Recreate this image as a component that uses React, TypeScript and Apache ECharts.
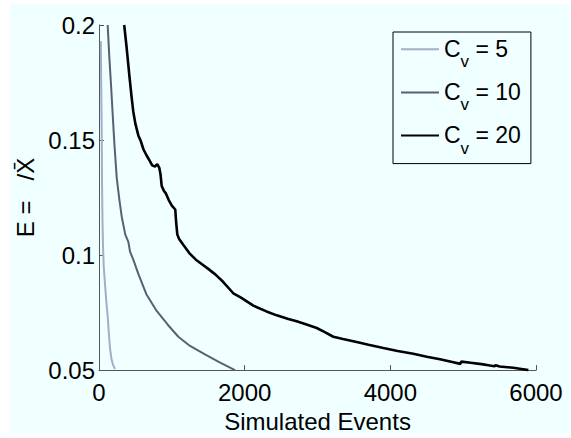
import React, { useEffect, useRef } from "react";
import * as echarts from "echarts";

const seriesNames = ["Cv5", "Cv10", "Cv20"];
const legendValues = ["5", "10", "20"];
const xTicks = [0, 2000, 4000, 6000];
const yTicks = [0.05, 0.1, 0.15, 0.2];

const cv5: [number, number][] = [
  [25, 0.193], [30, 0.175], [35, 0.16], [38, 0.15], [42, 0.13], [48, 0.115],
  [55, 0.104], [65, 0.095], [82, 0.0876], [100, 0.08], [119, 0.0736],
  [135, 0.066], [151, 0.0596], [170, 0.055], [190, 0.0525], [220, 0.0505],
];

const cv10: [number, number][] = [
  [119, 0.2], [140, 0.187], [165, 0.174], [190, 0.16], [210, 0.149],
  [243, 0.1337], [280, 0.124], [311, 0.1169], [360, 0.109], [403, 0.1057],
  [426, 0.1015], [471, 0.098], [540, 0.0918], [650, 0.083], [792, 0.0757],
  [950, 0.0695], [1089, 0.0645], [1250, 0.0605], [1455, 0.0568],
  [1650, 0.0535], [1867, 0.05],
];

const cv20: [number, number][] = [
  [346, 0.2], [380, 0.19], [420, 0.177], [450, 0.168], [471, 0.1623],
  [500, 0.157], [540, 0.152], [572, 0.1497], [610, 0.146], [650, 0.1435],
  [691, 0.1413], [730, 0.139], [769, 0.1385], [800, 0.1395], [828, 0.1379],
  [845, 0.135], [861, 0.13], [890, 0.128], [920, 0.1267], [956, 0.124],
  [1000, 0.1215], [1047, 0.1198], [1060, 0.114], [1075, 0.109],
  [1100, 0.107], [1159, 0.1044], [1250, 0.1005], [1330, 0.098],
  [1414, 0.096], [1500, 0.094], [1600, 0.0915], [1700, 0.0885],
  [1844, 0.0834], [1950, 0.0815], [2119, 0.078], [2300, 0.0755],
  [2440, 0.0738], [2600, 0.0722], [2714, 0.0712], [2850, 0.0698],
  [2989, 0.0683], [3100, 0.0665], [3217, 0.0645], [3350, 0.0635],
  [3538, 0.0622], [3700, 0.061], [3904, 0.0596], [4100, 0.0583],
  [4315, 0.0571], [4500, 0.0558], [4682, 0.0547], [4850, 0.0535],
  [4960, 0.0527], [4975, 0.0537], [5100, 0.0532], [5250, 0.0526],
  [5368, 0.052], [5430, 0.0517], [5445, 0.0521], [5500, 0.0516],
  [5689, 0.051], [5800, 0.0505], [5895, 0.05],
];

const colors = ["#a3aec8", "#5a6070", "#000000"];
const FONT = "'Liberation Sans', Arial, sans-serif";
const NB = "\u00a0";

export default function App() {
  const ref = useRef<HTMLDivElement>(null);
  useEffect(() => {
    if (!ref.current) return;
    const chart = echarts.init(ref.current, null, { renderer: "svg" });
    const dataSets = [cv5, cv10, cv20];
    const widths = [2, 2, 2.6];
    chart.setOption({
      animation: false,
      backgroundColor: "#ffffff",
      textStyle: { fontFamily: FONT },
      graphic: [
        {
          type: "rect",
          silent: true,
          z: -10,
          shape: { x: 10, y: 4, width: 561, height: 429 },
          style: { fill: "#f0ffff" },
        },
      ],
      grid: { left: 99, top: 25, right: 35, bottom: 55, containLabel: false },
      legend: {
        orient: "vertical",
        left: 393,
        top: 32,
        padding: [2, 10, 2, 7],
        itemWidth: 38,
        itemHeight: 38,
        itemGap: 2,
        borderColor: "#000",
        borderWidth: 1,
        backgroundColor: "transparent",
        itemStyle: { opacity: 0 },
        data: seriesNames,
        formatter: (name: string) => {
          const i = seriesNames.indexOf(name);
          return `{c|C}{s|v}{c|${NB}=${NB}${legendValues[i]}}`;
        },
        textStyle: {
          fontFamily: FONT,
          rich: {
            c: {
              fontSize: 23,
              lineHeight: 24,
              verticalAlign: "top",
              color: "#000",
              fontFamily: FONT,
            },
            s: {
              fontSize: 17,
              lineHeight: 17,
              verticalAlign: "top",
              padding: [16, 0, 5, 0],
              color: "#000",
              fontFamily: FONT,
            },
          },
        },
      },
      xAxis: {
        type: "value",
        min: xTicks[0],
        max: xTicks[xTicks.length - 1],
        interval: 2000,
        name: "Simulated Events",
        nameLocation: "middle",
        nameGap: 35,
        nameTextStyle: { fontSize: 24, color: "#000", fontFamily: FONT },
        axisLine: { show: true, lineStyle: { color: "#555", width: 1 } },
        axisTick: { show: true, inside: true, length: 5, lineStyle: { color: "#555" } },
        axisLabel: {
          fontSize: 24,
          color: "#000",
          margin: 10,
          showMinLabel: true,
          showMaxLabel: true,
          fontFamily: FONT,
          formatter: (v: number) => String(v),
        },
        splitLine: { show: false },
      },
      yAxis: {
        type: "value",
        min: yTicks[0],
        max: yTicks[yTicks.length - 1],
        interval: 0.05,
        name: `E${NB}=${NB}${NB}${NB}/X\u0304`,
        nameLocation: "middle",
        nameGap: 58,
        nameTextStyle: { fontSize: 24, color: "#000", fontFamily: FONT },
        axisLine: { show: true, lineStyle: { color: "#555", width: 1 } },
        axisTick: { show: true, inside: true, length: 5, lineStyle: { color: "#555" } },
        axisLabel: {
          fontSize: 24,
          color: "#000",
          margin: 4,
          showMinLabel: true,
          showMaxLabel: true,
          fontFamily: FONT,
          formatter: (v: number) => String(parseFloat(v.toFixed(2))),
        },
        splitLine: { show: false },
      },
      series: seriesNames.map((n, i) => ({
        name: n,
        type: "line",
        data: dataSets[i],
        showSymbol: false,
        symbol: "none",
        clip: true,
        color: colors[i],
        lineStyle: { color: colors[i], width: widths[i] },
      })),
    });
    return () => chart.dispose();
  }, []);
  return (
    <div
      ref={ref}
      style={{ position: "fixed", left: 0, top: 0, width: 571, height: 438 }}
    />
  );
}
